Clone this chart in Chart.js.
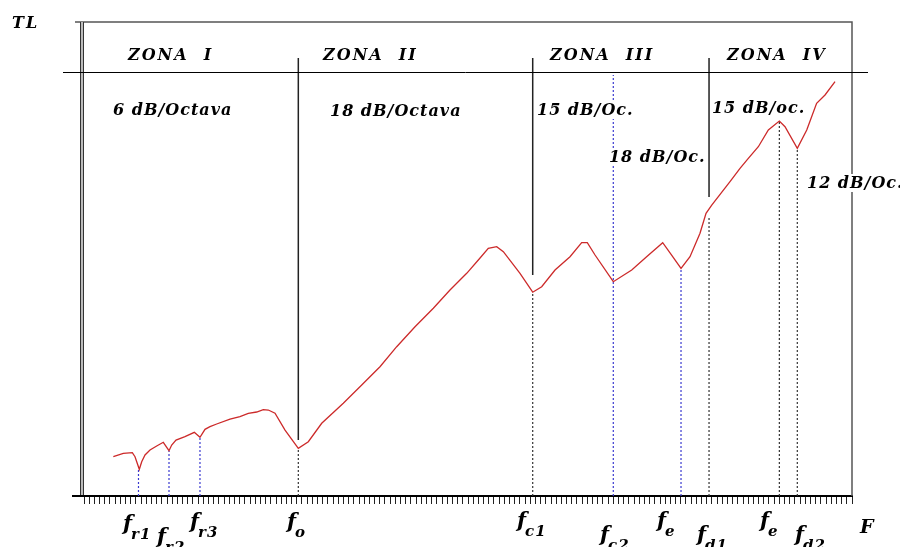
<!DOCTYPE html>
<html>
<head>
<meta charset="utf-8">
<script src="https://cdn.jsdelivr.net/npm/chart.js@4/dist/chart.umd.min.js"></script>
<style>
  html, body { margin: 0; padding: 0; background: #fff; }
</style>
</head>
<body>
<canvas id="myChart" width="900" height="547"></canvas>
<script>
// TL curve: x in axis tick units (0..148), y in relative dB (0..100)
var curveX = [5.65, 7.57, 9.31, 9.83, 10.66, 11.12, 11.76, 12.72, 14.01, 15.28,
  16.38, 16.90, 17.73, 19.46, 21.26, 22.35, 23.32, 24.28, 25.57, 28.14,
  30.06, 31.66, 33.28, 34.55, 35.52, 36.81, 38.74, 41.30, 43.23, 45.81,
  49.97, 53.52, 57.04, 60.26, 63.79, 67.32, 70.53, 73.75, 75.99, 77.91,
  79.53, 80.81, 84.02, 86.47, 88.20, 90.77, 93.66, 95.91, 96.99, 98.48,
  102.00, 105.55, 108.42, 111.52, 113.24, 115.05, 116.78, 118.71, 119.87, 120.97,
  124.49, 126.42, 128.02, 129.95, 131.88, 134.00, 135.09, 137.46, 139.28, 141.18,
  142.80, 144.73];
var curveY = [8.29, 9.01, 9.14, 8.29, 5.63, 7.24, 8.65, 9.70, 10.55, 11.33,
  9.56, 10.76, 11.81, 12.51, 13.44, 12.38, 14.07, 14.62, 15.19, 16.24,
  16.73, 17.45, 17.72, 18.21, 18.14, 17.45, 13.92, 10.06, 11.46, 15.34,
  19.56, 23.42, 27.28, 31.50, 35.72, 39.60, 43.46, 46.98, 49.79, 52.26,
  52.59, 51.54, 46.98, 43.00, 44.16, 47.68, 50.49, 53.44, 53.44, 50.84,
  45.21, 47.68, 50.49, 53.44, 50.84, 48.04, 50.49, 55.42, 59.64, 61.39,
  66.31, 69.13, 71.24, 73.69, 77.22, 79.11, 77.91, 73.35, 77.22, 82.85,
  84.60, 87.41];

// zone limits (solid)
var zoneX = [41.30, 86.47, 120.45];
var zoneTop = [92.4, 92.4, 92.4];
var zoneBottom = [11.81, 46.6, 63.1];

// dotted frequency markers
var blackX = [41.30, 86.47, 120.45, 134.00, 137.46];
var blackTop = [10.06, 43.00, 58.86, 79.11, 73.35];
var blueX = [10.50, 16.38, 22.35, 102.00, 115.05];
var blueTop = [5.63, 9.56, 12.38, 88.8, 48.04];

var xMax = 148;
var yMax = 100;
var headerY = 89.45;

// texts
var zoneNames = ["ZONA  I", "ZONA  II", "ZONA  III", "ZONA  IV"];
var zoneNameX = [8.48, 46.06, 89.81, 123.92];
var slopeNames = ["6 dB/Octava", "18 dB/Octava", "15 dB/Oc.", "18 dB/Oc.", "15 dB/oc.", "12 dB/Oc."];
var slopeX = [5.59, 47.41, 87.30, 101.17, 121.0, 139.33];
var slopeY = [80.38, 80.17, 80.38, 70.46, 80.8, 64.98];
var freqSubs = ["r1", "r2", "r3", "o", "c1", "c2", "e", "d1", "e", "d2"];
var freqX = [7.52, 14.07, 20.43, 39.12, 83.45, 99.44, 110.43, 118.13, 130.28, 137.02];
var freqY = [-7.17, -9.92, -6.75, -6.75, -6.54, -9.49, -6.54, -9.49, -6.54, -9.49];

function segments(xs, tops, bottoms) {
  var pts = [];
  for (var i = 0; i < xs.length; i++) {
    pts.push({x: xs[i], y: bottoms ? bottoms[i] : 0});
    pts.push({x: xs[i], y: tops[i]});
    pts.push({x: xs[i], y: null});
  }
  return pts;
}

var curveData = curveX.map(function (v, i) { return {x: v, y: curveY[i]}; });

var labelFont = 'bold italic 16px "DejaVu Serif"';

function drawText(ctx, text, px, py, font, spacing, bg) {
  ctx.font = font;
  ctx.letterSpacing = spacing;
  if (bg) {
    var w = ctx.measureText(text).width;
    ctx.fillStyle = "#fff";
    ctx.fillRect(px - 1, py - 14, w + 2, 18);
  }
  ctx.fillStyle = "#000";
  ctx.fillText(text, px, py);
}

var decorations = {
  id: "decorations",
  afterDraw: function (chart) {
    var ctx = chart.ctx;
    var a = chart.chartArea;
    var sx = chart.scales.x, sy = chart.scales.y;
    ctx.save();

    // frame
    ctx.strokeStyle = "#555";
    ctx.lineWidth = 1.5;
    ctx.beginPath();
    ctx.moveTo(a.left - 9, a.top);
    ctx.lineTo(a.right, a.top);
    ctx.lineTo(a.right, a.bottom);
    ctx.stroke();

    // double left line
    ctx.fillStyle = "#bbb";
    ctx.fillRect(a.left - 3, a.top, 3, a.bottom - a.top + 1);
    ctx.strokeStyle = "#333";
    ctx.lineWidth = 1;
    ctx.beginPath();
    ctx.moveTo(a.left - 3.5, a.top);
    ctx.lineTo(a.left - 3.5, a.bottom + 1);
    ctx.moveTo(a.left - 0.5, a.top);
    ctx.lineTo(a.left - 0.5, a.bottom + 1);
    ctx.stroke();

    // header line and axis extension
    var hy = Math.round(sy.getPixelForValue(headerY)) + 0.5;
    ctx.strokeStyle = "#000";
    ctx.beginPath();
    ctx.moveTo(a.left - 21, hy);
    ctx.lineTo(a.right + 16, hy);
    ctx.stroke();
    ctx.lineWidth = 2;
    ctx.beginPath();
    ctx.moveTo(a.left - 12, a.bottom);
    ctx.lineTo(a.left, a.bottom);
    ctx.stroke();

    ctx.textBaseline = "alphabetic";
    ctx.textAlign = "left";

    drawText(ctx, "TL", sx.getPixelForValue(-13.88), sy.getPixelForValue(98.73), labelFont, "2px", false);

    zoneNames.forEach(function (t, i) {
      drawText(ctx, t, sx.getPixelForValue(zoneNameX[i]), sy.getPixelForValue(91.98), labelFont, "2px", false);
    });
    slopeNames.forEach(function (t, i) {
      drawText(ctx, t, sx.getPixelForValue(slopeX[i]), sy.getPixelForValue(slopeY[i]), labelFont, "1px", true);
    });

    freqSubs.forEach(function (s, i) {
      var px = sx.getPixelForValue(freqX[i]);
      var py = sy.getPixelForValue(freqY[i]);
      drawText(ctx, "f", px, py, 'bold italic 21px "DejaVu Serif"', "0px", false);
      drawText(ctx, s, px + 8, py + 9, 'bold italic 15px "DejaVu Serif"', "1px", false);
    });
    drawText(ctx, "F", sx.getPixelForValue(149.55), sy.getPixelForValue(-7.8), 'bold italic 19px "DejaVu Serif"', "0px", false);

    ctx.restore();
  }
};

new Chart("myChart", {
  type: "line",
  data: {
    datasets: [
      {
        data: curveData,
        borderColor: "#cc2a2a",
        borderWidth: 1.3,
        pointRadius: 0,
        tension: 0,
      },
      {
        data: segments(zoneX, zoneTop, zoneBottom),
        borderColor: "#222",
        borderWidth: 1.5,
        pointRadius: 0,
        clip: false,
      },
      {
        data: segments(blackX, blackTop),
        borderColor: "#333",
        borderWidth: 1.2,
        borderDash: [2, 2],
        pointRadius: 0,
      },
      {
        data: segments(blueX, blueTop),
        borderColor: "#3a3ad0",
        borderWidth: 1.2,
        borderDash: [2, 2],
        pointRadius: 0,
      },
    ],
  },
  options: {
    responsive: false,
    animation: false,
    events: [],
    layout: {
      padding: { left: 84, right: 48, top: 22, bottom: 43 },
    },
    plugins: {
      legend: { display: false },
      tooltip: { enabled: false },
    },
    scales: {
      x: {
        type: "linear",
        min: 0,
        max: xMax,
        border: { display: true, color: "#000", width: 2 },
        grid: {
          display: true,
          drawOnChartArea: false,
          drawTicks: true,
          tickLength: 8,
          color: "#222",
          lineWidth: 1,
        },
        ticks: {
          display: false,
          stepSize: 1,
          autoSkip: false,
          maxTicksLimit: 500,
        },
      },
      y: {
        type: "linear",
        min: 0,
        max: yMax,
        display: false,
      },
    },
  },
  plugins: [decorations],
});
</script>
</body>
</html>
